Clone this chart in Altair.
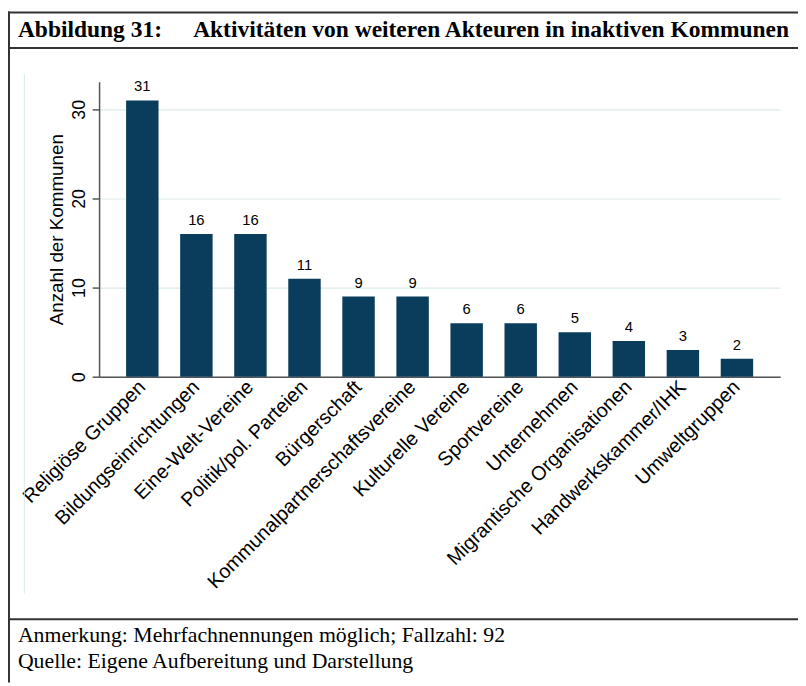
import altair as alt
import pandas as pd

# ---- data ----
categories = [
    "Religiöse Gruppen", "Bildungseinrichtungen", "Eine-Welt-Vereine",
    "Politik/pol. Parteien", "Bürgerschaft", "Kommunalpartnerschaftsvereine",
    "Kulturelle Vereine", "Sportvereine", "Unternehmen",
    "Migrantische Organisationen", "Handwerkskammer/IHK", "Umweltgruppen",
]
values = [31, 16, 16, 11, 9, 9, 6, 6, 5, 4, 3, 2]
y_ticks = [0, 10, 20, 30]

title_num = "Abbildung 31:"
title_text = "Aktivitäten von weiteren Akteuren in inaktiven Kommunen"
note_1 = "Anmerkung: Mehrfachnennungen möglich; Fallzahl: 92"
note_2 = "Quelle: Eigene Aufbereitung und Darstellung"
y_title = "Anzahl der Kommunen"

df = pd.DataFrame({"cat": categories, "val": values})

W, H = 688, 298
PL, PT = 92, 71          # plot origin inside canvas
CW, CH = 798, 678        # canvas size

BAR = "#0a3d5c"
GRID = "#dde9ea"
FRAME = "#333333"
SANS = "Liberation Sans"
SERIF = "Liberation Serif"

one = pd.DataFrame({"k": [0]})


def cx(v):  # canvas x -> plot coords
    return v - PL


def cy(v):
    return v - PT


x_enc = alt.X(
    "cat:N", sort=categories,
    scale=alt.Scale(paddingInner=0.4, paddingOuter=0.5),
    axis=alt.Axis(
        title=None, labelAngle=-45, labelAlign="right", labelBaseline="middle",
        labelFont=SANS, labelFontSize=20, labelColor="#000000", labelPadding=7,
        ticks=False, domainColor="#555555", domainWidth=1.5, labelLimit=400,
        labelOverlap=False,
    ),
)

y_enc = alt.Y(
    "val:Q",
    scale=alt.Scale(domain=[0, 33.1], nice=False),
    axis=alt.Axis(
        values=y_ticks, title=y_title, titleFont=SANS, titleFontSize=19,
        titleFontWeight="normal", titleColor="#000000", titleAngle=270,
        titleX=-43, titleY=H / 2, titleAlign="center", titleBaseline="middle",
        labelAngle=270, labelAlign="center", labelBaseline="bottom",
        labelFont=SANS, labelFontSize=18, labelColor="#000000", labelPadding=4,
        tickSize=7, tickColor="#555555", tickWidth=1.5,
        domainColor="#555555", domainWidth=1.5,
        grid=True, gridColor=GRID, gridWidth=1.2,
    ),
)

bars = alt.Chart(df).mark_bar(color=BAR).encode(x=x_enc, y=y_enc)

labels = alt.Chart(df).mark_text(
    font=SANS, fontSize=15, color="#000000", baseline="alphabetic", dy=-9
).encode(x=alt.X("cat:N", sort=categories), y="val:Q", text="val:Q")


def hline(x1, x2, y, color=FRAME, w=2):
    return alt.Chart(one).mark_rule(color=color, strokeWidth=w).encode(
        x=alt.value(cx(x1)), x2=alt.value(cx(x2)), y=alt.value(cy(y))
    )


def vline(x, y1, y2, color=FRAME, w=2):
    return alt.Chart(one).mark_rule(color=color, strokeWidth=w).encode(
        x=alt.value(cx(x)), y=alt.value(cy(y1)), y2=alt.value(cy(y2))
    )


def txt(s, x, y, size, weight="normal"):
    return alt.Chart(one).mark_text(
        font=SERIF, fontSize=size, fontWeight=weight, color="#000000",
        align="left", baseline="alphabetic",
    ).encode(x=alt.value(cx(x)), y=alt.value(cy(y)), text=alt.value(s))


frame = [
    hline(0, CW, 1),
    vline(1, 0, CH),
    hline(0, CW, 37),
    hline(0, CW, 614),
    vline(16.5, 63, 588, color="#d9e8e8", w=1),
]

texts = [
    txt(title_num, 10, 26, 23.7, "bold"),
    txt(title_text, 187, 26, 23.7, "bold"),
    txt(note_1, 10, 637, 22),
    txt(note_2, 10, 663, 22),
]

chart = alt.layer(bars, labels, *frame, *texts).properties(
    width=W, height=H,
    autosize=alt.AutoSizeParams(type="none"),
    padding={"left": PL, "top": PT, "right": CW - PL - W, "bottom": CH - PT - H},
    background="#ffffff",
).configure_view(stroke=None)

chart.save("out.html", embed_options={"renderer": "svg", "actions": False})
